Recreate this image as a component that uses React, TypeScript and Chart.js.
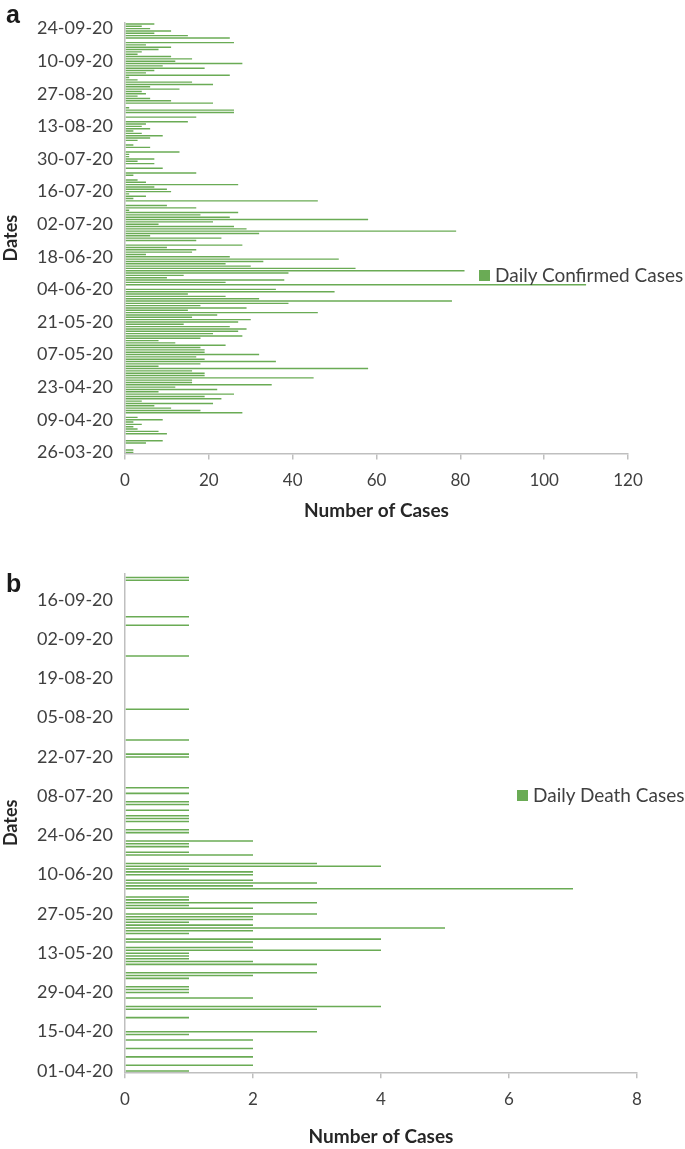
import React, { useEffect, useRef } from 'react';
import { Chart, registerables } from 'chart.js';

Chart.register(...registerables);

// Daily confirmed cases, one value per day starting 26-03-20
const confirmedStart = [2020, 2, 26];
const confirmedCases = [
  2, 2, 0, 0, 5,
  9, 0, 0, 10, 8, 3, 2, 4, 2, 9,
  3, 0, 28, 18, 11, 7, 21, 4, 23, 19,
  26, 8, 22, 12, 35, 16, 16, 45, 19, 19,
  16, 58, 8, 18, 36, 19, 17, 32, 19, 19,
  18, 24, 12, 8, 18, 28, 21, 27, 29, 25,
  14, 27, 30, 16, 22, 46, 15, 29, 18, 39,
  78, 32, 24, 15, 50, 36, 0, 110, 24, 38,
  10, 14, 39, 81, 55, 30, 24, 33, 51, 25,
  5, 16, 17, 10, 28, 0, 17, 23, 6, 32,
  79, 29, 26, 8, 21, 58, 25, 18, 27, 1,
  17, 10, 0, 46, 2, 5, 1, 11, 10, 7,
  27, 5, 3, 0, 2, 17, 0, 9, 0, 7,
  3, 7, 1, 1, 13, 0, 6, 2, 0, 3,
  6, 9, 4, 2, 6, 4, 5, 15, 0, 17,
  0, 26, 26, 1, 0, 21, 11, 6, 3, 5,
  4, 13, 6, 21, 16, 3, 1, 25, 5, 7,
  19, 9, 28, 12, 16, 11, 3, 4, 8, 11,
  5, 26, 0, 25, 15, 7, 11, 6, 4, 7,
];
const confirmedTickLabels = [
  '26-03-20', '09-04-20', '23-04-20', '07-05-20', '21-05-20', '04-06-20', '18-06-20',
  '02-07-20', '16-07-20', '30-07-20', '13-08-20', '27-08-20', '10-09-20', '24-09-20',
];

// Daily death cases, one value per day starting 01-04-20
const deathStart = [2020, 3, 1];
const deathCases = [
  1, 0, 2, 0, 0, 2, 0, 0, 2, 0,
  0, 2, 0, 1, 3, 0, 0, 0, 0, 1,
  0, 0, 3, 4, 0, 0, 2, 0, 1, 1,
  1, 0, 0, 1, 2, 3, 0, 0, 3, 2,
  1, 1, 1, 4, 2, 0, 2, 4, 0, 1,
  2, 5, 2, 1, 2, 2, 3, 0, 2, 1,
  3, 1, 1, 0, 0, 7, 2, 3, 2, 0,
  2, 2, 1, 4, 3, 0, 0, 2, 1, 0,
  1, 1, 2, 0, 0, 1, 1, 0, 0, 1,
  1, 1, 0, 1, 0, 1, 1, 0, 0, 1,
  0, 1, 0, 0, 0, 0, 0, 0, 0, 0,
  0, 0, 1, 1, 0, 0, 0, 0, 1, 0,
  0, 0, 0, 0, 0, 0, 0, 0, 0, 1,
  0, 0, 0, 0, 0, 0, 0, 0, 0, 0,
  0, 0, 0, 0, 0, 0, 0, 0, 1, 0,
  0, 0, 0, 0, 0, 0, 0, 0, 0, 1,
  0, 0, 1, 0, 0, 0, 0, 0, 0, 0,
  0, 0, 0, 0, 0, 1, 1, 0,
];
const deathTickLabels = [
  '01-04-20', '15-04-20', '29-04-20', '13-05-20', '27-05-20', '10-06-20', '24-06-20',
  '08-07-20', '22-07-20', '05-08-20', '19-08-20', '02-09-20', '16-09-20',
];

const GREEN = '#6aab55';
const AXIS = '#bfbfbf';
const TEXT = '#404040';
const TITLE = '#262626';
const FONT = 'Lato, "Open Sans", sans-serif';

const pad2 = (n: number) => String(n).padStart(2, '0');

// consecutive day categories formatted dd-mm-yy
function dayLabels(start: number[], count: number): string[] {
  const out: string[] = [];
  for (let k = 0; k < count; k++) {
    const d = new Date(Date.UTC(start[0], start[1], start[2] + k));
    out.push(`${pad2(d.getUTCDate())}-${pad2(d.getUTCMonth() + 1)}-${String(d.getUTCFullYear()).slice(2)}`);
  }
  return out;
}

type PanelProps = {
  top: number;
  height: number;
  areaTop: number;
  areaBottom: number;
  areaRight: number;
  labels: string[];
  shown: string[];
  values: number[];
  seriesName: string;
  xMax: number;
  xStep: number;
  titlePad: number;
  barPct: number;
  letter: string;
  letterTop: number;
  legendLeft: number;
  legendTop: number;
};

function Panel(p: PanelProps) {
  const ref = useRef<HTMLCanvasElement | null>(null);

  useEffect(() => {
    if (!ref.current) return;
    const shownSet = new Set(p.shown);
    const chart = new Chart(ref.current, {
      type: 'bar',
      data: {
        labels: p.labels,
        datasets: [
          {
            label: p.seriesName,
            data: p.values,
            backgroundColor: GREEN,
            borderWidth: 0,
            barPercentage: p.barPct,
            categoryPercentage: 1,
          },
        ],
      },
      options: {
        indexAxis: 'y',
        responsive: false,
        animation: false,
        layout: { padding: { top: p.areaTop, right: 685 - p.areaRight, left: 0, bottom: 0 } },
        plugins: { legend: { display: false }, tooltip: { enabled: false } },
        scales: {
          y: {
            reverse: true,
            grid: { display: false, drawTicks: false },
            border: { display: true, color: AXIS, width: 1.5 },
            ticks: {
              autoSkip: false,
              padding: 12,
              color: TEXT,
              font: { family: FONT, size: 18 },
              callback: (_v: any, i: number) => (shownSet.has(p.labels[i]) ? p.labels[i] : ''),
            },
            title: {
              display: true,
              text: 'Dates',
              color: TITLE,
              font: { family: FONT, size: 18, weight: 'bold' },
              padding: 0,
            },
            afterFit: (s: any) => {
              s.width = 125;
            },
          },
          x: {
            min: 0,
            max: p.xMax,
            ticks: { stepSize: p.xStep, color: TEXT, font: { family: FONT, size: 17 }, padding: 11 },
            grid: { display: true, drawOnChartArea: false, drawTicks: true, tickLength: 6, color: AXIS, lineWidth: 1.5 },
            border: { display: true, color: AXIS, width: 1.5 },
            title: {
              display: true,
              text: 'Number of Cases',
              color: TITLE,
              font: { family: FONT, size: 19, weight: 'bold' },
              padding: { top: 0, bottom: p.titlePad },
            },
            afterFit: (s: any) => {
              s.height = p.height - p.areaBottom;
            },
          },
        },
      },
    } as any);
    return () => chart.destroy();
  }, []);

  return (
    <div style={{ position: 'absolute', left: 0, top: p.top, width: 685, height: p.height }}>
      <canvas ref={ref} width={685} height={p.height} style={{ display: 'block' }} />
      <div
        style={{
          position: 'absolute',
          left: 6,
          top: p.letterTop,
          font: 'bold 25px "Liberation Sans", Arial, sans-serif',
          lineHeight: '25px',
          color: '#1a1a1a',
        }}
      >
        {p.letter}
      </div>
      <div
        style={{
          position: 'absolute',
          left: p.legendLeft,
          top: p.legendTop,
          display: 'flex',
          alignItems: 'center',
          whiteSpace: 'nowrap',
          fontFamily: FONT,
          fontSize: 19,
          lineHeight: '22px',
          color: TEXT,
        }}
      >
        <span style={{ display: 'inline-block', width: 11, height: 11, background: GREEN, marginRight: 5 }} />
        <span>{p.seriesName}</span>
      </div>
    </div>
  );
}

export default function App() {
  const confirmedLabels = dayLabels(confirmedStart, confirmedCases.length);
  const deathLabels = dayLabels(deathStart, deathCases.length);
  return (
    <div style={{ position: 'absolute', left: 0, top: 0, width: 685, height: 1149, overflow: 'hidden', background: '#fff' }}>
      <Panel
        top={0}
        height={530}
        areaTop={19.5}
        areaBottom={453.5}
        areaRight={628}
        labels={confirmedLabels}
        shown={confirmedTickLabels}
        values={confirmedCases}
        seriesName="Daily Confirmed Cases"
        xMax={120}
        xStep={20}
        titlePad={7.6}
        barPct={0.6}
        letter="a"
        letterTop={2}
        legendLeft={479}
        legendTop={264}
      />
      <Panel
        top={540}
        height={609}
        areaTop={33.3}
        areaBottom={532.3}
        areaRight={637}
        labels={deathLabels}
        shown={deathTickLabels}
        values={deathCases}
        seriesName="Daily Death Cases"
        xMax={8}
        xStep={2}
        titlePad={0.6}
        barPct={0.55}
        letter="b"
        letterTop={31}
        legendLeft={517}
        legendTop={244}
      />
    </div>
  );
}
